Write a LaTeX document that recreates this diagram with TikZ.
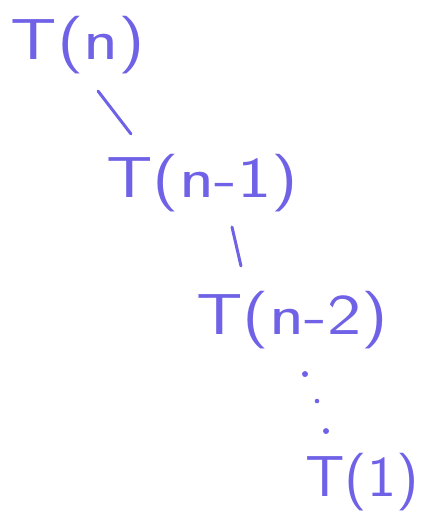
\documentclass[tikz,border=0pt]{standalone}
\usetikzlibrary{positioning, calc}
\definecolor{ink}{RGB}{112,98,230}
\newcommand{\wide}[2][1.32]{\scalebox{#1}[1.05]{#2}}

\begin{document}
\begin{tikzpicture}[x=1pt, y=1pt, align=center,
    call/.style={text=ink, inner sep=0pt, font=\sffamily\fontsize{55}{55}\selectfont},
    link/.style={draw=ink, line width=3pt, line cap=round}]
    \useasboundingbox (0,0) rectangle (427,514);

    \node [call] (tn) at (78,469) {\wide{T(n)}};
    \node [call] (tn1) at (202,331) {\wide{T(n-1)}};
    \node [call] (tn2) at (292,194) {\wide{T(n-2)}};
    \node [call] (t1) at (362,32) {\wide[1.12]{T(1)}};

    \draw [link] ($(tn.south)+(20,-17)$) -- ($(tn1.north west)+(25,20)$);
    \draw [link] ($(tn1.south)+(30,-15)$) -- ($(tn2.north west)+(45,25)$);

    % dots down to the base case
    \fill [ink] ($(tn2.south)+(13,-25)$) circle (3);
    \fill [ink] ($(tn2.south)+(25,-52)$) circle (2.3);
    \fill [ink] ($(tn2.south)+(34,-82)$) circle (3);
  \end{tikzpicture}
\end{document}
